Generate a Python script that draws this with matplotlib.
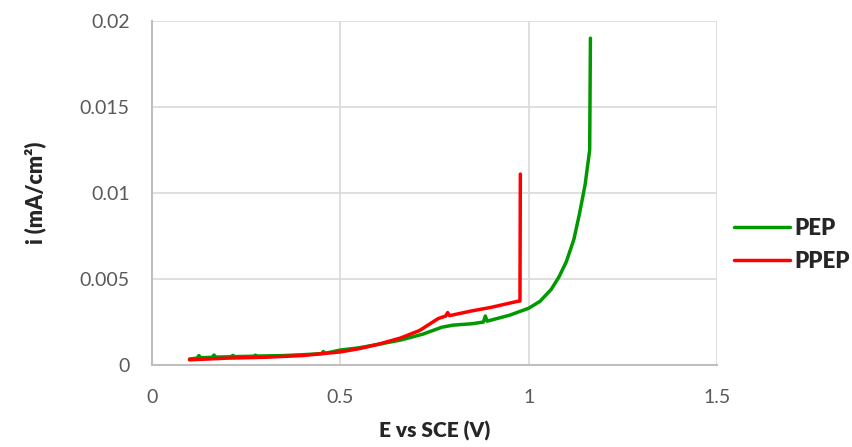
import numpy as np
import matplotlib.pyplot as plt

# potential (V vs SCE) and current density (mA/cm2)
pep_E = [0.10, 0.12, 0.125, 0.13, 0.16, 0.165, 0.17, 0.21, 0.215, 0.22, 0.27, 0.275, 0.28,
         0.35, 0.40, 0.45, 0.455, 0.46, 0.50, 0.55, 0.60, 0.66, 0.72, 0.77, 0.80,
         0.85, 0.88, 0.885, 0.89, 0.95, 1.00, 1.03, 1.06, 1.08, 1.10, 1.12, 1.135,
         1.15, 1.162, 1.164]
pep_i = [0.00035, 0.00040, 0.00055, 0.00042, 0.00045, 0.00058, 0.00046, 0.00048, 0.00056,
         0.00049, 0.00051, 0.00057, 0.00052, 0.00055, 0.00060, 0.00066, 0.00078, 0.00068,
         0.00087, 0.00100, 0.00120, 0.00145, 0.00180, 0.00220, 0.00232, 0.00240,
         0.00250, 0.00285, 0.00255, 0.00290, 0.00330, 0.00370, 0.00440, 0.00510,
         0.00600, 0.00730, 0.00880, 0.01050, 0.01250, 0.01900]

ppep_E = [0.10, 0.20, 0.30, 0.40, 0.50, 0.55, 0.60, 0.66, 0.71, 0.76, 0.78, 0.785,
          0.79, 0.85, 0.90, 0.97, 0.977, 0.978]
ppep_i = [0.00030, 0.00040, 0.00045, 0.00055, 0.00076, 0.00095, 0.00120, 0.00157,
          0.00200, 0.00270, 0.00285, 0.00305, 0.00287, 0.00315, 0.00335, 0.00370,
          0.00372, 0.01110]

plt.rcParams['font.family'] = ['Lato', 'DejaVu Sans']

fig = plt.figure(figsize=(8.53, 4.47), dpi=100)
ax = fig.add_axes([0.178, 0.1834, 0.6626, 0.7696])

ax.plot(pep_E, pep_i, color='#009a00', lw=2.5, label='PEP', solid_capstyle='round')
ax.plot(ppep_E, ppep_i, color='#ff0000', lw=2.5, label='PPEP', solid_capstyle='round')

ax.set_xlim(0, 1.5)
ax.set_ylim(0, 0.02)
ax.set_xticks([0, 0.5, 1, 1.5])
ax.set_xticklabels(['0', '0.5', '1', '1.5'])
ax.set_yticks([0, 0.005, 0.01, 0.015, 0.02])
ax.set_yticklabels(['0', '0.005', '0.01', '0.015', '0.02'])
ax.tick_params(length=0, labelsize=14, labelcolor='#595959')
ax.tick_params(axis='y', pad=16)
ax.tick_params(axis='x', pad=17)
ax.grid(True, color='#d9d9d9', lw=1.2)
ax.set_axisbelow(True)
for s in ['top', 'right']:
    ax.spines[s].set_visible(False)
for s in ['left', 'bottom']:
    ax.spines[s].set_color('#bfbfbf')
    ax.spines[s].set_linewidth(1.5)

ax.set_xlabel('E vs SCE (V)', fontsize=15, fontweight='heavy', color='#262626', labelpad=11)
ax.set_ylabel('i (mA/cm²)', fontsize=15.5, fontweight='heavy', color='#262626', labelpad=24)

leg = ax.legend(loc='center left', bbox_to_anchor=(0.995, 0.35), frameon=False,
                prop={'size': 16, 'weight': 'heavy'}, handlelength=2.5, handletextpad=0.2,
                labelspacing=0.55)
for t in leg.get_texts():
    t.set_color('#262626')

fig.savefig('out.png', dpi=100)
